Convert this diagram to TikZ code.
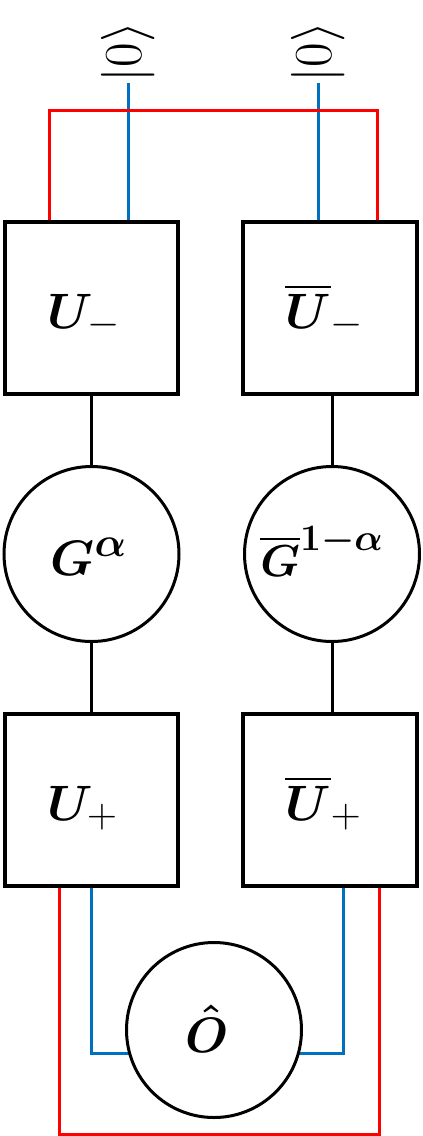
\documentclass[tikz,border=0pt]{standalone}
\usepackage{amsmath,bm}
\usetikzlibrary{calc,backgrounds}
\definecolor{wireblue}{RGB}{0,112,192}
\begin{document}
\begin{tikzpicture}[x=1pt,y=-1pt,
  box/.style={draw, line width=4pt, minimum width=173pt, minimum height=172pt, inner sep=0pt, fill=white},
  circ/.style={draw, circle, line width=3pt, minimum size=175pt, inner sep=0pt, fill=white},
  big/.style={font=\Huge, scale=2.0, inner sep=0pt, anchor=base west},
  ket/.style={font=\Huge, scale=2.15, rotate=90, inner sep=0pt},
  wire/.style={line width=3pt},
  redw/.style={wire, red},
  bluew/.style={wire, wireblue},
  blackw/.style={wire, black}]
\useasboundingbox (0,0) rectangle (423,1136);

% boxes
\node[box] (Um) at (91.5,308) {};
\node[box, minimum width=174pt] (Ubm) at (330,308) {};
\node[box] (Up) at (91.5,800) {};
\node[box, minimum width=174pt] (Ubp) at (330,800) {};

% circles
\node[circ] (G) at (91.5,554) {};
\node[circ] (Gb) at (332,554) {};
\node[circ] (O) at (214,1030) {};

% texts
\node[big] (tUm) at (47,328) {$\bm{U}_-$};
\node[big] (tUbm) at (285,328) {$\overline{\bm{U}}_-$};
\node[big] (tUp) at (47,820) {$\bm{U}_+$};
\node[big] (tUbp) at (285,820) {$\overline{\bm{U}}_+$};
\node[big] (tG) at (50,575) {$\bm{G}^{\bm{\alpha}}$};
\node[big, scale=0.9] (tGb) at (260,576) {$\overline{\bm{G}}^{\bm{1}\bm{-}\bm{\alpha}}$};
\node[big] (tO) at (185,1052) {$\bm{\hat{O}}$};

% top kets
\node[ket] (k1) at (128,52) {$|0\rangle$};
\node[ket] (k2) at (318,52) {$|0\rangle$};

% coordinates for wires
\coordinate (rt1) at ($(Um.north west)+(46,0)$);
\coordinate (rt2) at ($(Ubm.north)+(47,0)$);
\coordinate (rb1) at ($(Up.south)+(-32.5,0)$);
\coordinate (rb2) at ($(Ubp.south)+(49,0)$);
\coordinate (bb1) at (Up.south);
\coordinate (bb2) at ($(Ubp.south)+(13,0)$);

\begin{scope}[on background layer]
  % black connectors
  \draw[blackw] (Um.south) -- (G.north);
  \draw[blackw] (G.south) -- (Up.north);
  \draw[blackw] (Gb.north) -- (Gb.north |- Ubm.south);
  \draw[blackw] (Gb.south) -- (Gb.south |- Ubp.north);
  % top wires
  \draw[bluew] (k1.west) -- (k1.west |- Um.north);
  \draw[bluew] (k2.west) -- (k2.west |- Ubm.north);
  \draw[redw] (rt1) -- ($(rt1)+(0,-110)$) coordinate (rc1)
              -- (rc1 -| rt2) -- (rt2);
  % bottom wires
  \draw[redw] (rb1) -- ($(rb1 |- O.south)+(0,15)$) coordinate (rc2)
              -- (rc2 -| rb2) -- (rb2);
  \draw[bluew] (bb1) -- ($(bb1 |- O.center)+(0,23)$) coordinate (bc1) -- (bc1 -| O.center);
  \draw[bluew] (bb2) -- ($(bb2 |- O.center)+(0,23)$) coordinate (bc2) -- (bc2 -| O.center);
\end{scope}
\end{tikzpicture}
\end{document}
